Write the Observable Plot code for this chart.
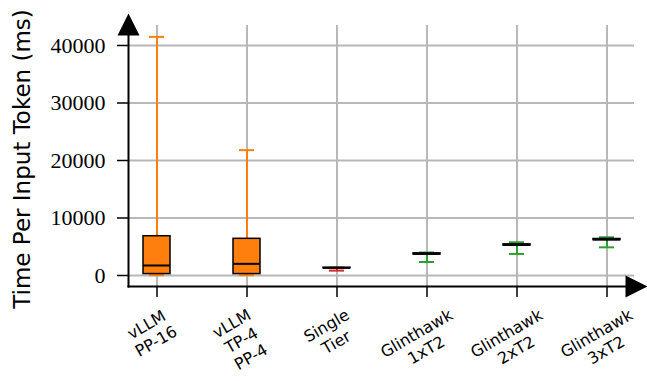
<!DOCTYPE html>
<html><head><meta charset="utf-8">
<script src="https://cdn.jsdelivr.net/npm/d3@7"></script>
<script src="https://cdn.jsdelivr.net/npm/@observablehq/plot@0.6"></script>
<style>body{margin:0;background:#fff;} #chart svg{display:block;}</style>
</head><body><div id="chart"></div>
<script>
// ---- data ----
const categories = ["vLLM\nPP-16", "vLLM\nTP-4\nPP-4", "Single\nTier", "Glinthawk\n1xT2", "Glinthawk\n2xT2", "Glinthawk\n3xT2"];
const whiskerLow  = [50,    50,    850,  2350, 3750, 4900];
const q1          = [250,   250,   1250, 3650, 5200, 6150];
const median      = [1740,  2030,  1330, 3770, 5330, 6260];
const q3          = [6830,  6380,  1350, 3850, 5420, 6350];
const whiskerHigh = [41500, 21800, 1370, 4000, 5780, 6650];
const groups      = ["vllm", "vllm", "single", "glinthawk", "glinthawk", "glinthawk"];
const yTicks = [0, 10000, 20000, 30000, 40000];
const yTitle = "Time Per Input Token (ms)";

// ---- styles ----
const groupColor = {vllm: "#ff7f0e", single: "#d62728", glinthawk: "#2ca02c"};
const gridColor = "#b8b8b8";
const yDomain = [-1913, 43478];
const xFs = 16, lineH = 1.2, rot = 30;

const data = categories.map((label, i) => ({
  label, lo: whiskerLow[i], q1: q1[i], med: median[i], q3: q3[i], hi: whiskerHigh[i],
  color: groupColor[groups[i]]
}));

// place rotated multi-line labels with their bounding box top aligned (like matplotlib)
const ctx = document.createElement("canvas").getContext("2d");
ctx.font = `${xFs}px "DejaVu Sans"`;
function labelDy(t) {
  const lines = t.split("\n");
  const w = Math.max(...lines.map(l => ctx.measureText(l).width));
  const H = lines.length * lineH * xFs;
  const a = rot * Math.PI / 180;
  return 18 + (w * Math.sin(a) + H * Math.cos(a)) / 2;
}

const upTri = {draw(c, size) { const r = Math.sqrt(size / Math.PI); c.moveTo(0, -r); c.lineTo(r, r); c.lineTo(-r, r); c.closePath(); }};
const rightTri = {draw(c, size) { const r = Math.sqrt(size / Math.PI); c.moveTo(r, 0); c.lineTo(-r, r); c.lineTo(-r, -r); c.closePath(); }};

const plot = Plot.plot({
  width: 647, height: 381,
  marginLeft: 128, marginRight: 13, marginTop: 25, marginBottom: 95,
  style: {fontFamily: "'Liberation Serif', serif", fontSize: "22px", background: "white", color: "black", overflow: "visible"},
  x: {type: "band", domain: categories, paddingInner: 0.7, paddingOuter: 0.149},
  y: {domain: yDomain},
  marks: [
    Plot.gridY(yTicks, {stroke: gridColor, strokeOpacity: 1, strokeWidth: 2}),
    Plot.gridX(categories, {stroke: gridColor, strokeOpacity: 1, strokeWidth: 2}),
    // whiskers
    Plot.ruleX(data, {x: "label", y1: "lo", y2: "q1", stroke: "color", strokeWidth: 2}),
    Plot.ruleX(data, {x: "label", y1: "q3", y2: "hi", stroke: "color", strokeWidth: 2}),
    // caps
    Plot.tickY(data, {x: "label", y: "lo", stroke: "color", strokeWidth: 2, insetLeft: 6, insetRight: 6}),
    Plot.tickY(data, {x: "label", y: "hi", stroke: "color", strokeWidth: 2, insetLeft: 6, insetRight: 6}),
    // boxes and medians
    Plot.barY(data, {x: "label", y1: "q1", y2: "q3", fill: "color", stroke: "black", strokeWidth: 1.5}),
    Plot.tickY(data, {x: "label", y: "med", stroke: "black", strokeWidth: 2}),
    // spines with arrowheads
    Plot.frame({anchor: "left", stroke: "black", strokeWidth: 2}),
    Plot.frame({anchor: "bottom", stroke: "black", strokeWidth: 2}),
    Plot.dot([0], {frameAnchor: "top-left", symbol: upTri, r: 11, fill: "black", dy: -1}),
    Plot.dot([0], {frameAnchor: "bottom-right", symbol: rightTri, r: 11, fill: "black", dx: 2}),
    // axes
    Plot.axisY(yTicks, {tickSize: 11, tickPadding: 12, tickFormat: d => String(d), fontSize: 22, strokeWidth: 1.5, label: null}),
    Plot.axisX(categories, {tickSize: 11, tickFormat: () => "", strokeWidth: 1.5, label: null}),
    ...categories.map(c => Plot.text([c], {
      x: d => d, text: d => d, frameAnchor: "bottom", dx: -6, dy: labelDy(c), rotate: -rot,
      textAnchor: "middle", lineAnchor: "middle", lineHeight: lineH,
      fontFamily: "'DejaVu Sans', sans-serif", fontSize: xFs, fill: "black"
    })),
    Plot.text([yTitle], {frameAnchor: "left", dx: -106, dy: 3, rotate: -90, text: d => d,
      textAnchor: "middle", lineAnchor: "middle",
      fontFamily: "'DejaVu Sans', sans-serif", fontSize: 23, fill: "black"})
  ]
});
document.getElementById("chart").appendChild(plot);
</script>
</body></html>
